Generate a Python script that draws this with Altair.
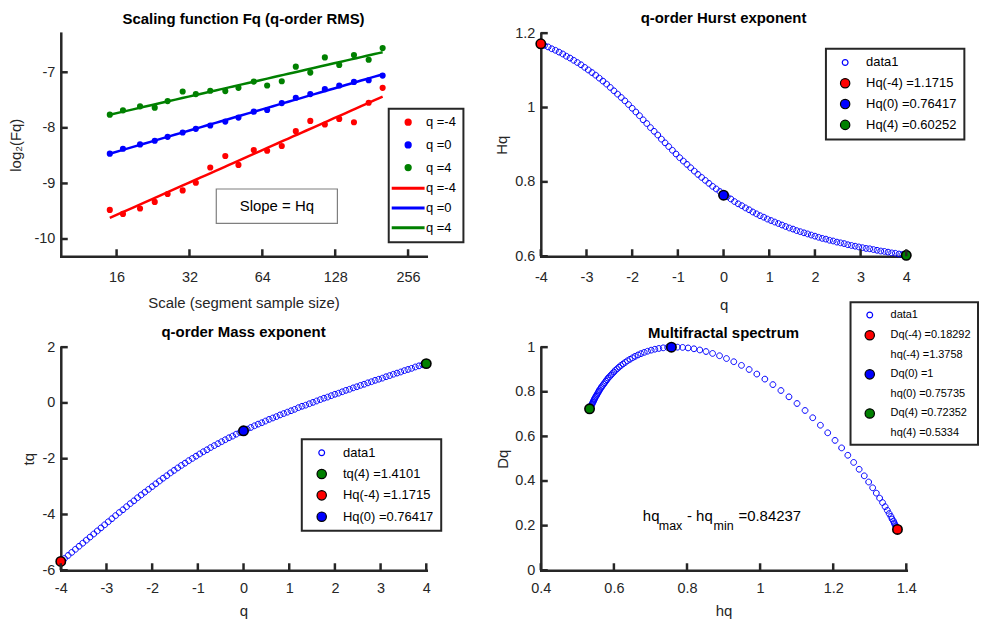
import pandas as pd
import altair as alt

FONT = "Liberation Sans, Arial, Helvetica, sans-serif"
DARK = "#262626"
RED, BLUE, GREEN = "#ff0000", "#0000ff", "#008000"

# ---------------- panel 1: fluctuation function ----------------
seg_scale = [15, 17, 20, 23, 26, 30, 34, 39, 45, 51, 59, 67, 77, 88, 101, 116, 133, 153, 176, 201]
fq_qm4 = [-9.476, -9.548, -9.452, -9.333, -9.190, -9.125, -8.988, -8.714, -8.506, -8.667,
          -8.399, -8.411, -8.327, -8.060, -7.875, -7.940, -7.839, -7.899, -7.548, -7.280]
fq_q0 = [-8.464, -8.375, -8.298, -8.232, -8.161, -8.083, -8.018, -7.958, -7.887, -7.815,
         -7.708, -7.679, -7.554, -7.458, -7.393, -7.304, -7.238, -7.173, -7.143, -7.060]
fq_q4 = [-7.762, -7.685, -7.613, -7.637, -7.518, -7.345, -7.393, -7.333, -7.339, -7.280,
         -7.167, -7.238, -7.161, -6.899, -7.006, -6.732, -6.869, -6.690, -6.774, -6.565]

# ---------------- q-order curves ----------------
q_vals = [-4, -3.92, -3.84, -3.76, -3.68, -3.6, -3.52, -3.44, -3.36, -3.28, -3.2, -3.12, -3.04,
          -2.96, -2.88, -2.8, -2.72, -2.64, -2.56, -2.48, -2.4, -2.32, -2.24, -2.16, -2.08, -2,
          -1.92, -1.84, -1.76, -1.68, -1.6, -1.52, -1.44, -1.36, -1.28, -1.2, -1.12, -1.04, -0.96,
          -0.88, -0.8, -0.72, -0.64, -0.56, -0.48, -0.4, -0.32, -0.24, -0.16, -0.08, 0, 0.08, 0.16,
          0.24, 0.32, 0.4, 0.48, 0.56, 0.64, 0.72, 0.8, 0.88, 0.96, 1.04, 1.12, 1.2, 1.28, 1.36,
          1.44, 1.52, 1.6, 1.68, 1.76, 1.84, 1.92, 2, 2.08, 2.16, 2.24, 2.32, 2.4, 2.48, 2.56, 2.64,
          2.72, 2.8, 2.88, 2.96, 3.04, 3.12, 3.2, 3.28, 3.36, 3.44, 3.52, 3.6, 3.68, 3.76, 3.84,
          3.92, 4]
Hq_vals = [1.172, 1.167, 1.163, 1.158, 1.154, 1.149, 1.144, 1.138, 1.133, 1.127,
           1.121, 1.115, 1.108, 1.101, 1.094, 1.087, 1.079, 1.071, 1.063, 1.054,
           1.045, 1.036, 1.027, 1.018, 1.008, 0.998, 0.988, 0.978, 0.967, 0.957,
           0.946, 0.936, 0.926, 0.915, 0.905, 0.895, 0.885, 0.875, 0.865, 0.856,
           0.847, 0.838, 0.829, 0.820, 0.812, 0.804, 0.796, 0.788, 0.781, 0.774,
           0.767, 0.760, 0.754, 0.747, 0.741, 0.736, 0.730, 0.725, 0.719, 0.714,
           0.709, 0.705, 0.700, 0.696, 0.692, 0.688, 0.684, 0.680, 0.676, 0.673,
           0.669, 0.666, 0.663, 0.660, 0.657, 0.654, 0.651, 0.648, 0.646, 0.643,
           0.641, 0.638, 0.636, 0.634, 0.631, 0.629, 0.627, 0.625, 0.623, 0.621,
           0.620, 0.618, 0.616, 0.614, 0.613, 0.611, 0.609, 0.608, 0.606, 0.605, 0.603]
tq_vals = [-5.69, -5.58, -5.47, -5.36, -5.25, -5.14, -5.03, -4.92, -4.81, -4.70,
           -4.59, -4.48, -4.37, -4.26, -4.15, -4.04, -3.93, -3.83, -3.72, -3.61,
           -3.51, -3.40, -3.30, -3.20, -3.10, -3.00, -2.90, -2.80, -2.70, -2.61,
           -2.51, -2.42, -2.33, -2.24, -2.16, -2.07, -1.99, -1.91, -1.83, -1.75,
           -1.68, -1.60, -1.53, -1.46, -1.39, -1.32, -1.25, -1.19, -1.12, -1.06,
           -1.00, -0.94, -0.88, -0.82, -0.76, -0.71, -0.65, -0.59, -0.54, -0.49,
           -0.43, -0.38, -0.33, -0.28, -0.23, -0.17, -0.12, -0.08, -0.03, 0.02,
           0.07, 0.12, 0.17, 0.21, 0.26, 0.31, 0.35, 0.40, 0.45, 0.49,
           0.54, 0.58, 0.63, 0.67, 0.72, 0.76, 0.81, 0.85, 0.89, 0.94,
           0.98, 1.03, 1.07, 1.11, 1.16, 1.20, 1.24, 1.29, 1.33, 1.37, 1.41]
hq_vals = [1.376, 1.376, 1.376, 1.376, 1.375, 1.375, 1.374, 1.373, 1.371, 1.369,
           1.367, 1.365, 1.361, 1.358, 1.353, 1.348, 1.342, 1.335, 1.327, 1.318,
           1.308, 1.297, 1.285, 1.271, 1.256, 1.240, 1.223, 1.205, 1.185, 1.165,
           1.144, 1.123, 1.101, 1.079, 1.057, 1.035, 1.013, 0.991, 0.970, 0.949,
           0.928, 0.908, 0.889, 0.870, 0.852, 0.835, 0.819, 0.803, 0.788, 0.774,
           0.760, 0.747, 0.735, 0.723, 0.712, 0.702, 0.692, 0.683, 0.674, 0.666,
           0.658, 0.651, 0.644, 0.637, 0.631, 0.625, 0.619, 0.614, 0.609, 0.604,
           0.600, 0.596, 0.592, 0.588, 0.584, 0.581, 0.578, 0.575, 0.572, 0.569,
           0.566, 0.564, 0.561, 0.559, 0.557, 0.555, 0.553, 0.551, 0.549, 0.547,
           0.546, 0.544, 0.543, 0.541, 0.540, 0.538, 0.537, 0.536, 0.535, 0.534]
Dq_vals = [0.1830, 0.1827, 0.1830, 0.1838, 0.1852, 0.1873, 0.1903, 0.1941, 0.1989, 0.2047,
           0.2118, 0.2201, 0.2299, 0.2411, 0.2540, 0.2686, 0.2850, 0.3033, 0.3234, 0.3456,
           0.3696, 0.3955, 0.4232, 0.4526, 0.4834, 0.5154, 0.5484, 0.5821, 0.6161, 0.6501,
           0.6836, 0.7162, 0.7475, 0.7774, 0.8057, 0.8322, 0.8568, 0.8794, 0.8999, 0.9184,
           0.9348, 0.9491, 0.9615, 0.9719, 0.9805, 0.9874, 0.9927, 0.9965, 0.9989, 1.0000,
           1.0000, 0.9990, 0.9970, 0.9942, 0.9907, 0.9866, 0.9818, 0.9766, 0.9710, 0.9651,
           0.9588, 0.9523, 0.9456, 0.9388, 0.9318, 0.9247, 0.9176, 0.9104, 0.9033, 0.8961,
           0.8890, 0.8819, 0.8748, 0.8679, 0.8610, 0.8541, 0.8474, 0.8407, 0.8342, 0.8277,
           0.8214, 0.8151, 0.8090, 0.8030, 0.7970, 0.7912, 0.7855, 0.7799, 0.7744, 0.7690,
           0.7637, 0.7586, 0.7535, 0.7485, 0.7436, 0.7388, 0.7341, 0.7295, 0.7250, 0.7206]

# highlighted points (from the legends)
hurst_pts = [1.1715, 0.76417, 0.60252]          # Hq at q = -4, 0, 4
mass_pts = [1.4101, -5.686, -1.0]               # tq at q = 4, -4, 0
spec_h = [1.3758, 0.75735, 0.5334]              # hq at q = -4, 0, 4
spec_d = [0.18292, 1.0, 0.72352]                # Dq at q = -4, 0, 4


def circ(r):
    return f"M{-r},0A{r},{r},0,1,1,{r},0A{r},{r},0,1,1,{-r},0Z"


SMALL, BIG, DOT, LINE = circ(0.58), circ(0.94), circ(0.43), "M-3.3,0L3.3,0"
W, Hh = 367, 224


def xticks(vals, sc, ax):
    return alt.Chart(pd.DataFrame({"tv": vals})).mark_rule(color=DARK, strokeWidth=2.5).encode(
        x=alt.X("tv:Q", scale=sc, axis=ax), y=alt.value(Hh), y2=alt.value(Hh - 7))


def yticks(vals, sc, ax):
    return alt.Chart(pd.DataFrame({"tv": vals})).mark_rule(color=DARK, strokeWidth=2.5).encode(
        y=alt.Y("tv:Q", scale=sc, axis=ax), x=alt.value(0), x2=alt.value(7))


LAB = "'' + datum.value"

# ---------------- TL ----------------
xs1 = alt.Scale(type="log", base=2, domain=[9.41, 304.4], nice=False)
xa1 = alt.Axis(values=[16, 32, 64, 128, 256], labelExpr=LAB, title="Scale (segment sample size)",
               labelPadding=14, titlePadding=11.5)
ys1 = alt.Scale(domain=[-10.31, -6.296], nice=False, zero=False)
ya1 = alt.Axis(values=[-10, -9, -8, -7], labelExpr=LAB, title="log₂(Fq)", labelPadding=6, titlePadding=10)

series = ["q=-4", "q=0", "q=4"]
df1 = pd.DataFrame({
    "scale": seg_scale * 3,
    "fq": fq_qm4 + fq_q0 + fq_q4,
    "series": [series[0]] * 20 + [series[1]] * 20 + [series[2]] * 20,
})
col1 = alt.Color("series:N", scale=alt.Scale(domain=series, range=[RED, BLUE, GREEN]), legend=None)
pts1 = alt.Chart(df1).mark_circle(size=38, opacity=1).encode(
    x=alt.X("scale:Q", scale=xs1, axis=xa1), y=alt.Y("fq:Q", scale=ys1, axis=ya1), color=col1)
lines1 = alt.Chart(df1).transform_regression("scale", "fq", groupby=["series"], method="log").mark_line(
    strokeWidth=2.5).encode(x=alt.X("scale:Q", scale=xs1, axis=xa1), y=alt.Y("fq:Q", scale=ys1, axis=ya1),
                             color=col1)
box_df = pd.DataFrame({"x1": [41.3], "x2": [130.7], "y1": [-9.72], "y2": [-9.10], "xm": [73.5], "ym": [-9.41]})
box1 = alt.Chart(box_df).mark_rect(fill="white", stroke="#7f7f7f", strokeWidth=1.2).encode(
    x=alt.X("x1:Q", scale=xs1, axis=xa1), x2="x2", y=alt.Y("y1:Q", scale=ys1, axis=ya1), y2="y2")
boxt1 = alt.Chart(box_df).mark_text(text="Slope = Hq", fontSize=15, font=FONT, color="black",
                                    baseline="middle", align="center").encode(
    x=alt.X("xm:Q", scale=xs1, axis=xa1), y=alt.Y("ym:Q", scale=ys1, axis=ya1))
keys1 = ["q =-4", "q =0", "q =4", "q =-4 ", "q =0 ", "q =4 "]
leg1 = alt.Legend(title=None, orient="none", legendX=329.3, legendY=76, padding=6.9, rowPadding=5.8,
                  symbolOffset=6.1, labelOffset=11.4, symbolSize=100, symbolStrokeWidth=3,
                  labelFontSize=13, labelExpr="trim(datum.label)")
legdf1 = pd.DataFrame({"k": keys1, "lx": [1000] * 6, "ly": [0] * 6})
legl1 = alt.Chart(legdf1).mark_point(clip=True, opacity=1, size=100).encode(
    x=alt.X("lx:Q", scale=xs1, axis=xa1), y=alt.Y("ly:Q", scale=ys1, axis=ya1),
    fill=alt.Fill("k:N", scale=alt.Scale(domain=keys1, range=[RED, BLUE, GREEN] * 2), legend=leg1),
    stroke=alt.Stroke("k:N", scale=alt.Scale(domain=keys1, range=[RED, BLUE, GREEN] * 2), legend=leg1),
    shape=alt.Shape("k:N", scale=alt.Scale(domain=keys1, range=[DOT] * 3 + [LINE] * 3), legend=leg1))
tl = alt.layer(pts1, lines1, box1, boxt1, legl1,
               xticks([16, 32, 64, 128, 256], xs1, xa1), yticks([-10, -9, -8, -7], ys1, ya1)).properties(
    width=W, height=Hh, title=alt.TitleParams("Scaling function Fq (q-order RMS)", offset=6.5))


def curve_panel(xv, yv, mx, my, keys, fills, xs, xa, ys, ya, xt, yt, leg, title, toff, extra=()):
    df = pd.DataFrame({"x": xv, "y": yv, "k": ["data1"] * len(xv)})
    dm = pd.DataFrame({"x": mx, "y": my, "k": keys[1:]})
    enc = dict(
        x=alt.X("x:Q", scale=xs, axis=xa), y=alt.Y("y:Q", scale=ys, axis=ya),
        fill=alt.Fill("k:N", scale=alt.Scale(domain=keys, range=fills), legend=leg),
        stroke=alt.Stroke("k:N", scale=alt.Scale(domain=keys, range=[BLUE, "black", "black", "black"]), legend=leg),
        shape=alt.Shape("k:N", scale=alt.Scale(domain=keys, range=[SMALL, BIG, BIG, BIG]), legend=leg))
    l1 = alt.Chart(df).mark_point(size=100, opacity=1, strokeWidth=1.0).encode(**enc)
    l2 = alt.Chart(dm).mark_point(size=100, opacity=1, strokeWidth=1.6).encode(**enc)
    return alt.layer(l1, l2, *extra, xticks(xt, xs, xa), yticks(yt, ys, ya)).properties(
        width=W, height=Hh, title=alt.TitleParams(title, offset=toff))


qx = [-4, -3, -2, -1, 0, 1, 2, 3, 4]
xsq = alt.Scale(domain=[-4, 4], nice=False)
xaq_top = alt.Axis(values=qx, labelExpr=LAB, title="q", labelPadding=14, titlePadding=13.5)
xaq_bot = alt.Axis(values=qx, labelExpr=LAB, title="q", labelPadding=11, titlePadding=9)

# ---------------- TR ----------------
ys2 = alt.Scale(domain=[0.6, 1.2], nice=False, zero=False)
ya2 = alt.Axis(values=[0.6, 0.8, 1, 1.2], labelExpr=LAB, title="Hq", labelPadding=6, titlePadding=5)
keys2 = ["data1", "Hq(-4) =1.1715", "Hq(0) =0.76417", "Hq(4) =0.60252"]
leg2 = alt.Legend(title=None, orient="none", legendX=286.3, legendY=15.7, padding=7.2, rowPadding=5.9,
                  symbolOffset=5.6, labelOffset=14.5, symbolSize=100, symbolStrokeWidth=1.2, labelFontSize=13)
tr = curve_panel(q_vals, Hq_vals, [-4, 0, 4], hurst_pts, keys2,
                 ["transparent", RED, BLUE, GREEN], xsq, xaq_top, ys2, ya2, qx, [0.6, 0.8, 1, 1.2], leg2,
                 "q-order Hurst exponent", -1)

# ---------------- BL ----------------
ys3 = alt.Scale(domain=[-6, 2], nice=False, zero=False)
ya3 = alt.Axis(values=[-6, -4, -2, 0, 2], labelExpr=LAB, title="tq", labelPadding=6, titlePadding=5)
keys3 = ["data1", "tq(4) =1.4101", "Hq(-4) =1.1715", "Hq(0) =0.76417"]
leg3 = alt.Legend(title=None, orient="none", legendX=242, legendY=92.4, padding=7.1, rowPadding=6.4,
                  symbolOffset=6.4, labelOffset=14.9, symbolSize=100, symbolStrokeWidth=1.2, labelFontSize=13)
bl = curve_panel(q_vals, tq_vals, [4, -4, 0], mass_pts, keys3,
                 ["transparent", GREEN, RED, BLUE], xsq, xaq_bot, ys3, ya3, qx, [-6, -4, -2, 0, 2], leg3,
                 "q-order Mass exponent", -1)

# ---------------- BR ----------------
xs4 = alt.Scale(domain=[0.4, 1.4], nice=False, zero=False)
xa4 = alt.Axis(values=[0.4, 0.6, 0.8, 1, 1.2, 1.4], labelExpr=LAB, title="hq", labelPadding=11, titlePadding=9)
ys4 = alt.Scale(domain=[0, 1], nice=False)
ya4 = alt.Axis(values=[0, 0.2, 0.4, 0.6, 0.8, 1], labelExpr=LAB, title="Dq", labelPadding=6, titlePadding=4)
keys4 = ["data1", "Dq(-4) =0.18292|hq(-4) =1.3758", "Dq(0) =1|hq(0) =0.75735", "Dq(4) =0.72352|hq(4) =0.5334"]
leg4 = alt.Legend(title=None, orient="none", legendX=311, legendY=-45, padding=6.7, rowPadding=6.3,
                  symbolOffset=6.6, labelOffset=14.9, symbolSize=100, symbolStrokeWidth=1.2,
                  labelFontSize=11, labelExpr="split(datum.label, '|')")
anchor = pd.DataFrame({"ax": [0.6792], "ay": [0.2201]})
pieces = [("hq", 0, 0, 15), ("max", 16, 8.4, 12.5), ("- hq", 44.3, 0, 15), ("min", 71, 8.4, 12.5),
          ("=0.84237", 96, 0, 15)]
ann = [alt.Chart(anchor).mark_text(text=t, dx=dx, dy=dy, fontSize=fs, font=FONT, color="black",
                                   align="left", baseline="alphabetic").encode(
    x=alt.X("ax:Q", scale=xs4, axis=xa4), y=alt.Y("ay:Q", scale=ys4, axis=ya4)) for t, dx, dy, fs in pieces]
br = curve_panel(hq_vals, Dq_vals, spec_h, spec_d, keys4,
                 ["transparent", RED, BLUE, GREEN], xs4, xa4, ys4, ya4,
                 [0.4, 0.6, 0.8, 1, 1.2, 1.4], [0, 0.2, 0.4, 0.6, 0.8, 1], leg4, "Multifractal spectrum",
                 -39.5, ann)

chart = alt.concat(tl, tr, bl, br, columns=2, bounds="flush",
                   spacing={"row": 91.3, "column": 115}).resolve_scale(
    fill="independent", stroke="independent", shape="independent", color="independent"
).resolve_legend(
    fill="independent", stroke="independent", shape="independent", color="independent"
).properties(
    padding={"left": 1, "top": 2, "right": 0, "bottom": 0}
).configure(font=FONT, style={"guide-label": {"lineHeight": 19.5}}).configure_view(strokeWidth=0).configure_axis(
    domainColor=DARK, domainWidth=2.5, domainCap="square", ticks=False, tickSize=0, grid=False,
    labelFont=FONT, labelFontSize=14.5, labelColor=DARK, titleFont=FONT, titleFontSize=15,
    titleFontWeight="normal", titleColor=DARK, labelFlush=False
).configure_legend(labelFont=FONT, labelColor="black", strokeColor=DARK, fillColor="white", strokeWidth=2
).configure_title(font=FONT, fontSize=15, fontWeight="bold", color="black", anchor="middle")

chart.save("out.html", embed_options={"renderer": "svg", "actions": False})
